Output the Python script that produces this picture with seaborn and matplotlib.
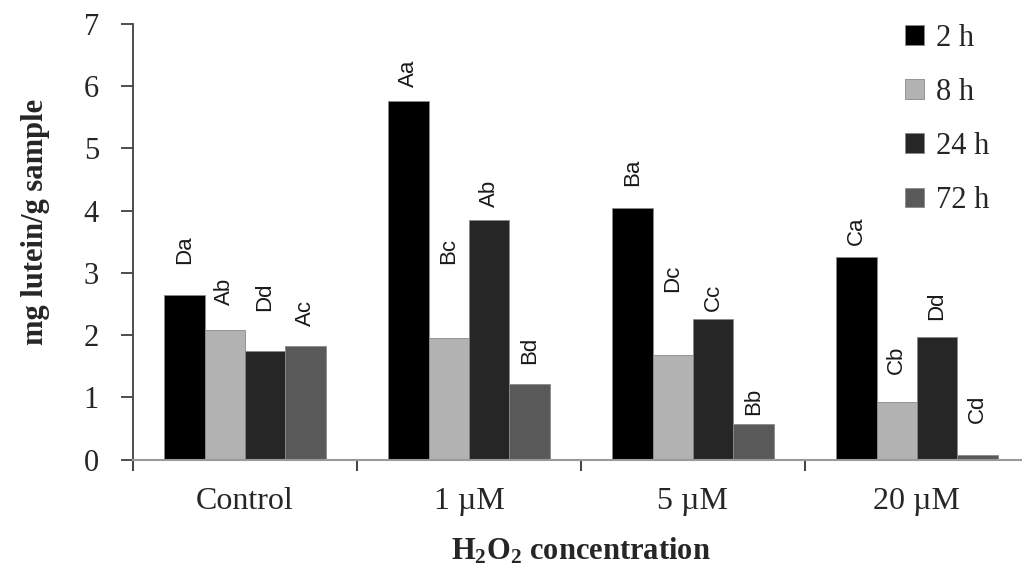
import pandas as pd
import seaborn as sns
import matplotlib.pyplot as plt
from matplotlib.ticker import FixedLocator

# data
concs = ['Control', '1 µM', '5 µM', '20 µM']
times = ['2 h', '8 h', '24 h', '72 h']
lutein_2h = [2.64, 5.76, 4.04, 3.26]
lutein_8h = [2.08, 1.95, 1.68, 0.92]
lutein_24h = [1.75, 3.85, 2.26, 1.97]
lutein_72h = [1.82, 1.21, 0.57, 0.07]
# significance letters and the height at which each one starts
letters_2h = ['Da', 'Aa', 'Ba', 'Ca']
letters_8h = ['Ab', 'Bc', 'Dc', 'Cb']
letters_24h = ['Dd', 'Ab', 'Cc', 'Dd']
letters_72h = ['Ac', 'Bd', 'Bb', 'Cd']
letter_y_2h = [3.14, 5.99, 4.39, 3.45]
letter_y_8h = [2.49, 3.14, 2.70, 1.37]
letter_y_24h = [2.38, 4.06, 2.38, 2.25]
letter_y_72h = [2.14, 1.53, 0.72, 0.59]
colors = ['#000000', '#b2b2b2', '#262626', '#595959']

values = [lutein_2h, lutein_8h, lutein_24h, lutein_72h]
letters = [letters_2h, letters_8h, letters_24h, letters_72h]
letter_y = [letter_y_2h, letter_y_8h, letter_y_24h, letter_y_72h]

df = pd.DataFrame({
    'conc': concs * len(times),
    'time': [t for t in times for _ in concs],
    'lutein': [v for vals in values for v in vals],
})

sns.set_style('ticks')
plt.rcParams['font.family'] = ['Liberation Serif', 'DejaVu Serif']
plt.rcParams['mathtext.fontset'] = 'custom'
plt.rcParams['mathtext.rm'] = 'Liberation Serif'
plt.rcParams['mathtext.bf'] = 'Liberation Serif:bold'

fig = plt.figure(figsize=(10.22, 5.68), dpi=100)
ax = fig.add_axes([0.1301, 0.191, 0.8767, 0.7667])

sns.barplot(data=df, x='conc', y='lutein', hue='time', order=concs,
            hue_order=times, palette=colors, width=0.72, saturation=1,
            edgecolor='#8a8a8a', linewidth=0.6, ax=ax)

# letters above bars
for cont, labs, ys in zip(ax.containers, letters, letter_y):
    for bar, lab, y in zip(cont, labs, ys):
        ax.text(bar.get_x() + bar.get_width() / 2, y, lab, rotation=90,
                ha='center', va='bottom', fontsize=16,
                family=['Liberation Sans', 'DejaVu Sans'], color='#1a1a1a')

ax.set_xlim(-0.5, 3.5)
ax.set_ylim(0, 7)
ax.set_yticks(range(0, 8))
ax.tick_params(axis='y', labelsize=22, length=8.5, width=1.3,
               color='#404040', pad=16)
ax.tick_params(axis='x', which='major', labelsize=23, length=0, pad=20)
ax.xaxis.set_minor_locator(FixedLocator([-0.5, 0.5, 1.5, 2.5, 3.5]))
ax.tick_params(axis='x', which='minor', length=8, width=1.3,
               color='#303030')

sns.despine(ax=ax)
ax.spines['left'].set_color('#404040')
ax.spines['left'].set_linewidth(1.3)
ax.spines['bottom'].set_color('#9a9a9a')
ax.spines['bottom'].set_linewidth(1.5)

ax.set_ylabel('mg lutein/g sample', fontsize=22, fontweight='bold')
ax.yaxis.set_label_coords(-0.093, 0.545)
ax.set_xlabel(r'$\mathbf{H_2O_2}$ concentration', fontsize=22,
              fontweight='bold', labelpad=14)

handles, labels = ax.get_legend_handles_labels()
ax.legend(handles, labels, loc='upper left', bbox_to_anchor=(0.886, 0.958),
          bbox_transform=fig.transFigure, frameon=False, fontsize=22,
          handlelength=0.6, handleheight=0.6, handletextpad=0.4,
          labelspacing=0.82, borderpad=0, borderaxespad=0)

plt.savefig('out.png', dpi=100)
